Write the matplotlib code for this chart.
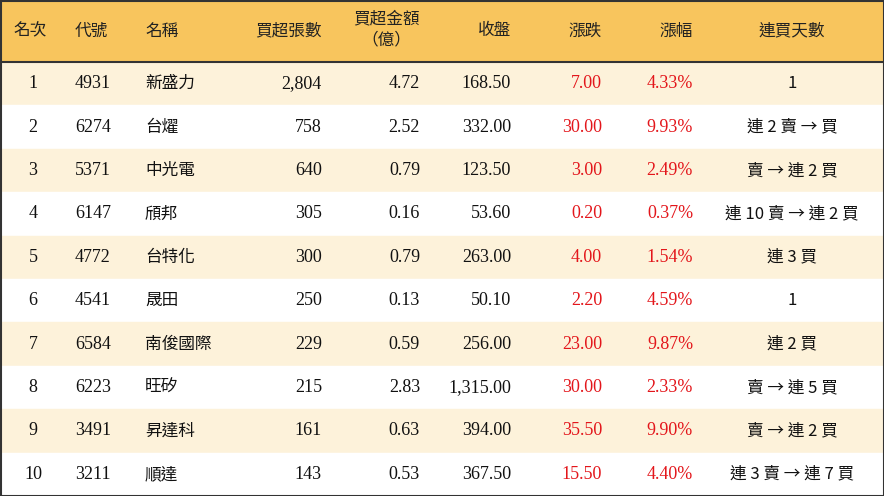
import matplotlib
matplotlib.use("Agg")
import matplotlib.pyplot as plt
from matplotlib.patches import Rectangle

ranks = ["1","2","3","4","5","6","7","8","9","10"]
codes = ["4931","6274","5371","6147","4772","4541","6584","6223","3491","3211"]
names = ["新盛力","台燿","中光電","頎邦","台特化","晟田","南俊國際","旺矽","昇達科","順達"]
lots = ["2,804","758","640","305","300","250","229","215","161","143"]
amount = ["4.72","2.52","0.79","0.16","0.79","0.13","0.59","2.83","0.63","0.53"]
close = ["168.50","332.00","123.50","53.60","263.00","50.10","256.00","1,315.00","394.00","367.50"]
change = ["7.00","30.00","3.00","0.20","4.00","2.20","23.00","30.00","35.50","15.50"]
pct = ["4.33%","9.93%","2.49%","0.37%","1.54%","4.59%","9.87%","2.33%","9.90%","4.40%"]
days = ["1","連 2 賣 → 買","賣 → 連 2 買","連 10 賣 → 連 2 買","連 3 買","1","連 2 買","賣 → 連 5 買","賣 → 連 2 買","連 3 賣 → 連 7 買"]
headers = ["名次","代號","名稱","買超張數","買超金額\n（億）","收盤","漲跌","漲幅","連買天數"]

W, H = 884, 496
fig = plt.figure(figsize=(W/100, H/100), dpi=100)
ax = fig.add_axes([0, 0, 1, 1])
ax.set_xlim(0, W); ax.set_ylim(H, 0); ax.axis("off")

cjk = "Noto Sans CJK TC"
serif = "Liberation Serif"
red = "#E3161B"
head_h = 62
row_h = (H - head_h) / len(ranks)

ax.add_patch(Rectangle((0, 0), W, head_h, color="#F8C55D", zorder=0))
for i in range(len(ranks)):
    c = "#FDF2DA" if i % 2 == 0 else "white"
    ax.add_patch(Rectangle((0, head_h + i*row_h), W, row_h, color=c, zorder=0))
ax.plot([0, W], [head_h, head_h], color="#333333", lw=1.5)
ax.add_patch(Rectangle((0.5, 0.5), W-1, H-1, fill=False, ec="#333333", lw=1.5))

hpos = [(13,"left"),(75,"left"),(145,"left"),(322,"right"),(420,"right"),(511,"right"),(602,"right"),(693,"right"),(792,"center")]
for (x, ha), t in zip(hpos, headers):
    if "\n" in t:
        ax.text(x, 19, "買超金額", ha=ha, va="center", fontsize=12, family=cjk, weight="medium", color="#222")
        ax.text(386, 40, "（億）", ha="center", va="center", fontsize=12, family=cjk, weight="medium", color="#222")
    else:
        ax.text(x, 31, t, ha=ha, va="center", fontsize=12, family=cjk, weight="medium", color="#222")

cols = [(ranks,33,"center",serif,None),(codes,75,"left",serif,None),(names,145,"left",cjk,None),
        (lots,322,"right",serif,None),(amount,420,"right",serif,None),(close,511,"right",serif,None),
        (change,602,"right",serif,red),(pct,693,"right",serif,red),(days,792,"center",cjk,None)]
for i in range(len(ranks)):
    y = head_h + (i+0.5)*row_h
    for vals, x, ha, fam, col in cols:
        ax.text(x, y, vals[i], ha=ha, va="center", fontsize=13 if fam == serif else 12,
                family=fam, color=col or "#111")

fig.savefig("out.png", dpi=100)
